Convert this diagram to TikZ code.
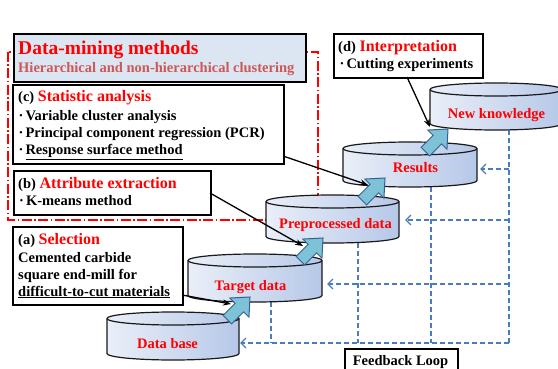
\documentclass[tikz,border=0pt]{standalone}
\usepackage{fontspec}
\setmainfont{Liberation Serif}
\usetikzlibrary{arrows.meta}
\definecolor{titlefill}{RGB}{220,230,242}
\definecolor{subred}{RGB}{204,88,88}
\definecolor{fbblue}{RGB}{74,126,187}
\definecolor{cylL}{RGB}{234,239,248}
\definecolor{cylR}{RGB}{182,200,232}
\definecolor{fatfill}{RGB}{126,194,216}
\definecolor{fatline}{RGB}{55,95,145}
\tikzset{
 box/.style={draw=black, line width=1.6pt, fill=white, inner sep=0pt, anchor=north west},
 txt/.style={inner sep=0pt, anchor=base west, font=\fontsize{14.5}{17}\selectfont\bfseries},
 cyltext/.style={inner sep=0pt, anchor=base, text=red, font=\fontsize{14.5}{17}\selectfont\bfseries},
 cylbody/.style={left color=cylL, right color=cylR, draw=black!90, line width=1.2pt},
 cylrim/.style={draw=black!90, line width=1.2pt},
 fb/.style={draw=fbblue, line width=1.3pt, dash pattern=on 5pt off 3pt},
 fbarrow/.style={fb, -{Straight Barb[length=5pt,width=10pt]}},
 link/.style={draw=black, line width=1.3pt, -{Stealth[length=8pt,width=6pt]}},
 fat/.style={fill=fatfill, draw=fatline, line width=1pt, line join=miter},
 frame/.style={draw=red, line width=1.3pt, dash pattern=on 10pt off 2.5pt on 1.5pt off 2.5pt},
}
\newcommand{\cylshape}[4]{%
 \pgfmathsetmacro\myrx{(#2-#1)/2}%
 \path[cylbody] (#1,#3) -- (#1,#4) arc[start angle=180,end angle=360,x radius=\myrx pt,y radius=6.5pt]
   -- (#2,#3) arc[start angle=0,end angle=180,x radius=\myrx pt,y radius=6.5pt] -- cycle;
 \draw[cylrim] (#1,#3) arc[start angle=180,end angle=360,x radius=\myrx pt,y radius=6.5pt];
}
\newcommand{\fatarrow}[1]{%
 \draw[fat, shift={(#1)}, rotate=45] (0pt,0pt) -- (-15pt,13.5pt) -- (-15pt,6pt) -- (-32pt,6pt)
   -- (-32pt,-6pt) -- (-15pt,-6pt) -- (-15pt,-13.5pt) -- cycle;
}
\begin{document}
\begin{tikzpicture}[x=1pt,y=-1pt]
\useasboundingbox (0,0) rectangle (558,369);
% red dash-dot frame
\draw[frame] (8,52) rectangle (318,220);

% coordinates
\coordinate (nkB) at (509,130);
\coordinate (corner) at (509,343);
\coordinate (dbR) at (240,343);
\coordinate (resR) at (480,169);
\coordinate (preR) at (405,220);
\coordinate (tgtR) at (327,284);
\coordinate (tgtB) at (271,302);
\coordinate (preB) at (358,243);
\coordinate (resB) at (431,187);
\coordinate (tgtFoot) at (271,343);
\coordinate (preFoot) at (358,343);
\coordinate (resFoot) at (431,343);
\coordinate (resSide) at (509,169);
\coordinate (preSide) at (509,220);
\coordinate (tgtSide) at (509,284);

% feedback loop lines
\draw[fb] (nkB) -- (corner);
\draw[fbarrow] (corner) -- (dbR);
\draw[fb] (tgtB) -- (tgtFoot);
\draw[fb] (preB) -- (preFoot);
\draw[fb] (resB) -- (resFoot);
\draw[fbarrow] (resSide) -- (resR);
\draw[fbarrow] (preSide) -- (preR);
\draw[fbarrow] (tgtSide) -- (tgtR);

% cylinders
\cylshape{430}{562}{89.5}{123.5}
\node[cyltext] (nk) at (496.5,119) {New knowledge};
\cylshape{343}{477}{148.5}{180.5}
\node[cyltext] (res) at (415.5,173) {Results};
\cylshape{266}{399}{201.5}{236.5}
\node[cyltext] (pre) at (335.5,229) {Preprocessed data};
\cylshape{188}{322}{260.5}{295.5}
\node[cyltext] (tgt) at (250.5,290) {Target data};
\cylshape{107}{239}{318.5}{353.5}
\node[cyltext] (db) at (167.5,348) {Data base};

% title box
\node[box, fill=titlefill, minimum width=292pt, minimum height=48pt] (title) at (13,33) {};
\node[txt, text=red, font=\fontsize{19.5}{22}\selectfont\bfseries] (titleTxt) at (18,55) {Data-mining methods};
\node[txt, text=subred] (subTxt) at (18,73) {Hierarchical and non-hierarchical clustering};

% box c
\node[box, minimum width=271pt, minimum height=79pt] (boxC) at (12,84) {};
\node[txt] (c1) at (18,102) {(c) {\color{red}\fontsize{16}{18}\selectfont Statistic analysis}};
\node[txt] (c2) at (18.5,121) {·\kern2pt Variable cluster analysis};
\node[txt] (c3) at (18.5,138) {·\kern2pt Principal component regression (PCR)};
\node[txt] (c4) at (18.5,155) {·\kern2pt \underline{Response surface method}};

% box b
\node[box, minimum width=197pt, minimum height=44pt] (boxB) at (13,170) {};
\node[txt] (b1) at (18,189) {(b) {\color{red}\fontsize{16}{18}\selectfont Attribute extraction}};
\node[txt] (b2) at (19,206) {·\kern2pt K-means method};

% box a
\node[box, minimum width=170pt, minimum height=78pt] (boxA) at (12,226) {};
\node[txt] (a1) at (18,244) {(a) {\color{red}\fontsize{16}{18}\selectfont Selection}};
\node[txt] (a2) at (18,262) {Cemented carbide};
\node[txt] (a3) at (18,279) {square end-mill for};
\node[txt] (a4) at (18,296) {\underline{difficult-to-cut materials}};

% box d
\node[box, minimum width=149pt, minimum height=44pt] (boxD) at (333,33) {};
\node[txt] (d1) at (338,52) {(d) {\color{red}\fontsize{16}{18}\selectfont Interpretation}};
\node[txt] (d2) at (339.5,69) {·\kern2pt Cutting experiments};

% feedback loop box
\node[box, minimum width=113pt, minimum height=30pt] (fbBox) at (344,348) {};
\node[txt, anchor=base] (fbTxt) at (400.5,365) {Feedback Loop};

% fat arrows
\coordinate (f1) at (250,297);
\coordinate (f2) at (323,238);
\coordinate (f3) at (385,178);
\coordinate (f4) at (448,129);
\fatarrow{f1}
\fatarrow{f2}
\fatarrow{f3}
\fatarrow{f4}

% link arrows
\coordinate (aOut) at (182,295);
\coordinate (aIn) at (231,304);
\coordinate (bOut) at (210,193);
\coordinate (bIn) at (303,246);
\coordinate (cOut) at (283,156);
\coordinate (cIn) at (368,185);
\coordinate (dOut) at (407,77);
\coordinate (dIn) at (430,127);
\draw[link] (aOut) -- (aIn);
\draw[link] (bOut) -- (bIn);
\draw[link] (cOut) -- (cIn);
\draw[link] (dOut) -- (dIn);
\end{tikzpicture}
\end{document}
